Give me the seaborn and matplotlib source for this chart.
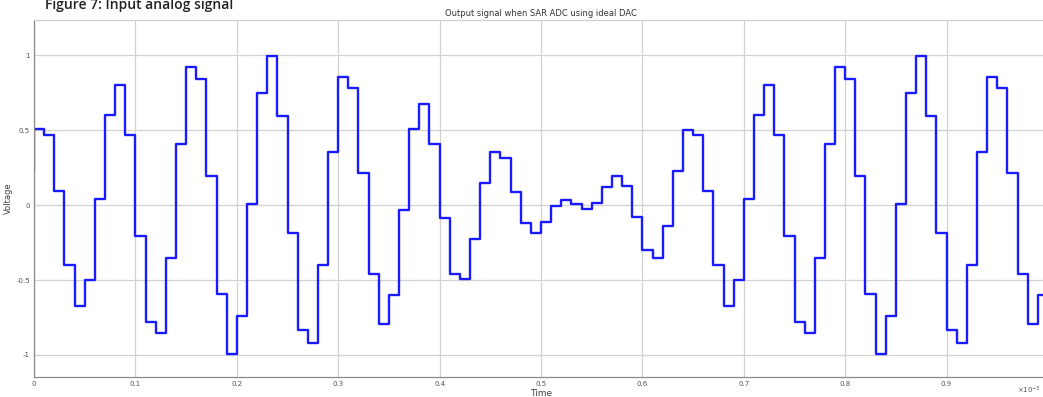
import numpy as np
import pandas as pd
import matplotlib
matplotlib.use("Agg")
import matplotlib.pyplot as plt
import seaborn as sns

# ---- data ----
sample_period = 0.01          # x10^-3 s
start_value = 0.23            # value at t=0 before first sample
sample_values = [
    0.505, 0.465, 0.094, -0.403, -0.670, -0.497, 0.038, 0.601, 0.802, 0.465,
    -0.207, -0.782, -0.853, -0.354, 0.405, 0.924, 0.840, 0.196, -0.590, -0.991,
    -0.742, 0.004, 0.750, 0.998, 0.595, -0.189, -0.835, -0.918, -0.403, 0.356,
    0.857, 0.784, 0.212, -0.463, -0.795, -0.597, -0.033, 0.506, 0.675, 0.408,
    -0.085, -0.461, -0.492, -0.223, 0.145, 0.356, 0.312, 0.087, -0.122, -0.185,
    -0.116, -0.004, 0.033, 0.007, -0.027, 0.011, 0.122, 0.194, 0.129, -0.080,
    -0.301, -0.350, -0.140, 0.227, 0.501, 0.465, 0.094, -0.403, -0.670, -0.497,
    0.038, 0.601, 0.802, 0.465, -0.207, -0.782, -0.853, -0.354, 0.405, 0.924,
    0.840, 0.196, -0.590, -0.991, -0.742, 0.004, 0.750, 0.998, 0.595, -0.189,
    -0.835, -0.918, -0.403, 0.356, 0.857, 0.784, 0.212, -0.463, -0.795, -0.597,
]
x_ticks = [0, 0.1, 0.2, 0.3, 0.4, 0.5, 0.6, 0.7, 0.8, 0.9]
x_tick_labels = ["0", "0.1", "0.2", "0.3", "0.4", "0.5", "0.6", "0.7", "0.8", "0.9"]
y_ticks = [-1, -0.5, 0, 0.5, 1]
y_tick_labels = ["-1", "-0.5", "0", "0.5", "1"]

n = len(sample_values)
times = [0.0] + [i * sample_period for i in range(n)] + [n * sample_period]
values = [start_value] + list(sample_values) + [sample_values[-1]]
df = pd.DataFrame({"Time": times, "Voltage": values})

# ---- figure ----
sns.set_theme(style="white")
plt.rcParams["font.family"] = ["DejaVu Sans"]
W, H = 1043, 397
fig = plt.figure(figsize=(W / 100, H / 100), dpi=100)
ax = fig.add_axes([34 / W, 20 / H, (1048 - 34) / W, (377 - 20) / H])

sns.lineplot(data=df, x="Time", y="Voltage", ax=ax, color="#1a1aff",
             linewidth=1.7, drawstyle="steps-post", estimator=None, sort=False)

ax.set_xlim(0, 1.0)
ax.set_ylim(-1.147, 1.235)
ax.set_xticks(x_ticks)
ax.set_xticklabels(x_tick_labels)
ax.set_yticks(y_ticks)
ax.set_yticklabels(y_tick_labels)
ax.grid(True, color="#d2d2d2", linewidth=0.9)
ax.set_axisbelow(True)
ax.tick_params(axis="both", direction="in", length=4, width=0.6,
               labelsize=5, colors="#555555", pad=3)
for s in ax.spines.values():
    s.set_color("#8a8a8a")
    s.set_linewidth(0.9)
ax.spines["top"].set_color("#cfcfcf")

ax.set_xlabel("Time", fontsize=6.5, color="#444444", labelpad=1)
ax.set_ylabel("Voltage", fontsize=6, color="#444444")
ax.yaxis.set_label_coords(-0.021, 0.5)
ax.set_title("Output signal when SAR ADC using ideal DAC", fontsize=6,
             color="#333333", pad=3)

fig.text(1041 / W, 1 - 390 / H, "×10$^{-3}$", fontsize=5, color="#555555",
         ha="right", va="center")
fig.text(45 / W, 1 - 9 / H, "Figure 7: Input analog signal", fontsize=10,
         color="#222222", ha="left", va="baseline", fontweight="semibold",
         family=["Open Sans", "DejaVu Sans"])

fig.savefig("out.png", dpi=100)
